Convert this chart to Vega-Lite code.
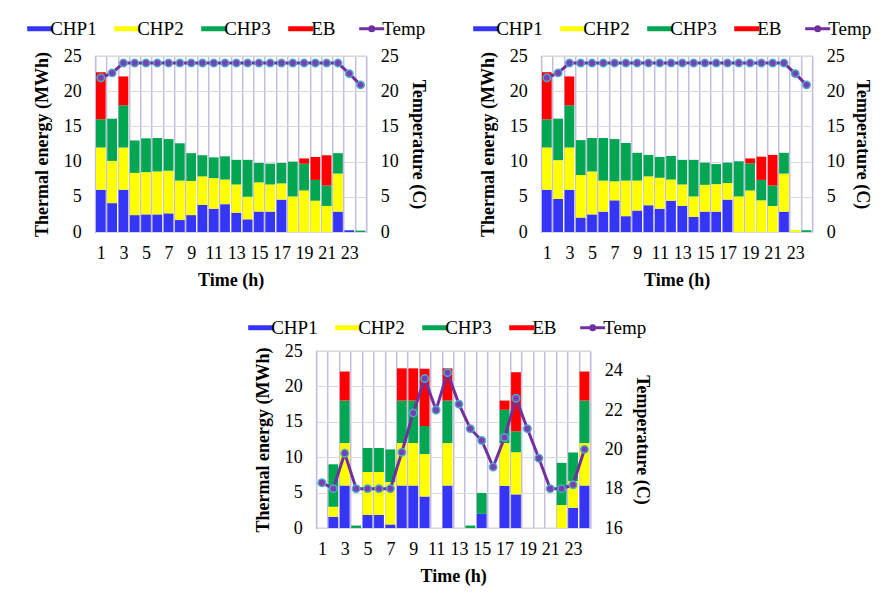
{
  "$schema": "https://vega.github.io/schema/vega-lite/v6.json",
  "padding": {"left": 29, "top": 18, "right": 0, "bottom": 0},
  "background": "white",
  "config": {
    "font": "Liberation Serif",
    "view": {"stroke": "#a6a6a6", "strokeWidth": 1.2},
    "axis": {"labelFontSize": 18, "titleFontSize": 18, "labelColor": "#000", "titleColor": "#000", "titleFontWeight": "bold", "labelFont": "Liberation Serif", "titleFont": "Liberation Serif"},
    "legend": {"labelFontSize": 19, "labelFont": "Liberation Serif", "labelColor": "#000"}
  },
  "datasets": {
    "p1": [
      {"h": 1, "CHP1": 6, "CHP2": 6, "CHP3": 4, "EB": 6.7, "Temp": 21.9},
      {"h": 2, "CHP1": 4.1, "CHP2": 6, "CHP3": 6, "EB": 0, "Temp": 22.6},
      {"h": 3, "CHP1": 6, "CHP2": 6, "CHP3": 6, "EB": 4.1, "Temp": 24},
      {"h": 4, "CHP1": 2.4, "CHP2": 6, "CHP3": 4.6, "EB": 0, "Temp": 24},
      {"h": 5, "CHP1": 2.5, "CHP2": 6, "CHP3": 4.8, "EB": 0, "Temp": 24},
      {"h": 6, "CHP1": 2.5, "CHP2": 6.1, "CHP3": 4.75, "EB": 0, "Temp": 24},
      {"h": 7, "CHP1": 2.65, "CHP2": 6.05, "CHP3": 4.5, "EB": 0, "Temp": 24},
      {"h": 8, "CHP1": 1.7, "CHP2": 5.6, "CHP3": 5.3, "EB": 0, "Temp": 24},
      {"h": 9, "CHP1": 2.4, "CHP2": 4.85, "CHP3": 3.95, "EB": 0, "Temp": 24},
      {"h": 10, "CHP1": 3.85, "CHP2": 4.05, "CHP3": 3.0, "EB": 0, "Temp": 24},
      {"h": 11, "CHP1": 3.3, "CHP2": 4.35, "CHP3": 2.95, "EB": 0, "Temp": 24},
      {"h": 12, "CHP1": 3.95, "CHP2": 3.5, "CHP3": 3.3, "EB": 0, "Temp": 24},
      {"h": 13, "CHP1": 2.75, "CHP2": 4.0, "CHP3": 3.5, "EB": 0, "Temp": 24},
      {"h": 14, "CHP1": 1.8, "CHP2": 3.2, "CHP3": 5.25, "EB": 0, "Temp": 24},
      {"h": 15, "CHP1": 2.9, "CHP2": 4.15, "CHP3": 2.75, "EB": 0, "Temp": 24},
      {"h": 16, "CHP1": 2.9, "CHP2": 3.85, "CHP3": 2.95, "EB": 0, "Temp": 24},
      {"h": 17, "CHP1": 4.6, "CHP2": 2.3, "CHP3": 2.9, "EB": 0, "Temp": 24},
      {"h": 18, "CHP1": 0, "CHP2": 5.05, "CHP3": 4.95, "EB": 0, "Temp": 24},
      {"h": 19, "CHP1": 0, "CHP2": 5.9, "CHP3": 3.8, "EB": 0.75, "Temp": 24},
      {"h": 20, "CHP1": 0, "CHP2": 4.45, "CHP3": 2.95, "EB": 3.25, "Temp": 24},
      {"h": 21, "CHP1": 0, "CHP2": 3.7, "CHP3": 2.9, "EB": 4.3, "Temp": 24},
      {"h": 22, "CHP1": 2.9, "CHP2": 5.4, "CHP3": 2.9, "EB": 0, "Temp": 24},
      {"h": 23, "CHP1": 0.25, "CHP2": 0, "CHP3": 0, "EB": 0, "Temp": 22.5},
      {"h": 24, "CHP1": 0, "CHP2": 0, "CHP3": 0.2, "EB": 0, "Temp": 20.9}
    ],
    "p2": [
      {"h": 1, "CHP1": 6, "CHP2": 6, "CHP3": 4, "EB": 6.7, "Temp": 21.9},
      {"h": 2, "CHP1": 4.7, "CHP2": 5.5, "CHP3": 5.9, "EB": 0, "Temp": 22.6},
      {"h": 3, "CHP1": 6, "CHP2": 6, "CHP3": 6, "EB": 4.1, "Temp": 24},
      {"h": 4, "CHP1": 2.05, "CHP2": 6.05, "CHP3": 4.95, "EB": 0, "Temp": 24},
      {"h": 5, "CHP1": 2.5, "CHP2": 6.1, "CHP3": 4.75, "EB": 0, "Temp": 24},
      {"h": 6, "CHP1": 2.9, "CHP2": 4.4, "CHP3": 6.05, "EB": 0, "Temp": 24},
      {"h": 7, "CHP1": 4.5, "CHP2": 2.7, "CHP3": 6.0, "EB": 0, "Temp": 24},
      {"h": 8, "CHP1": 2.25, "CHP2": 5.05, "CHP3": 5.35, "EB": 0, "Temp": 24},
      {"h": 9, "CHP1": 3.05, "CHP2": 4.25, "CHP3": 3.95, "EB": 0, "Temp": 24},
      {"h": 10, "CHP1": 3.8, "CHP2": 4.1, "CHP3": 3.05, "EB": 0, "Temp": 24},
      {"h": 11, "CHP1": 3.3, "CHP2": 4.4, "CHP3": 2.95, "EB": 0, "Temp": 24},
      {"h": 12, "CHP1": 4.45, "CHP2": 3.0, "CHP3": 3.35, "EB": 0, "Temp": 24},
      {"h": 13, "CHP1": 3.7, "CHP2": 3.05, "CHP3": 3.5, "EB": 0, "Temp": 24},
      {"h": 14, "CHP1": 2.15, "CHP2": 2.9, "CHP3": 5.2, "EB": 0, "Temp": 24},
      {"h": 15, "CHP1": 2.9, "CHP2": 3.8, "CHP3": 3.15, "EB": 0, "Temp": 24},
      {"h": 16, "CHP1": 2.9, "CHP2": 3.9, "CHP3": 2.85, "EB": 0, "Temp": 24},
      {"h": 17, "CHP1": 4.6, "CHP2": 2.35, "CHP3": 2.9, "EB": 0, "Temp": 24},
      {"h": 18, "CHP1": 0, "CHP2": 5.05, "CHP3": 5.0, "EB": 0, "Temp": 24},
      {"h": 19, "CHP1": 0, "CHP2": 5.9, "CHP3": 3.85, "EB": 0.7, "Temp": 24},
      {"h": 20, "CHP1": 0, "CHP2": 4.5, "CHP3": 2.9, "EB": 3.3, "Temp": 24},
      {"h": 21, "CHP1": 0, "CHP2": 3.7, "CHP3": 2.9, "EB": 4.35, "Temp": 24},
      {"h": 22, "CHP1": 2.9, "CHP2": 5.4, "CHP3": 2.95, "EB": 0, "Temp": 24},
      {"h": 23, "CHP1": 0, "CHP2": 0.3, "CHP3": 0, "EB": 0, "Temp": 22.5},
      {"h": 24, "CHP1": 0, "CHP2": 0, "CHP3": 0.25, "EB": 0, "Temp": 20.9}
    ],
    "p3": [
      {"h": 1, "CHP1": 0, "CHP2": 0, "CHP3": 0, "EB": 0, "Temp": 18.3},
      {"h": 2, "CHP1": 1.6, "CHP2": 1.4, "CHP3": 6.0, "EB": 0, "Temp": 18.0},
      {"h": 3, "CHP1": 6, "CHP2": 6, "CHP3": 6, "EB": 4.1, "Temp": 19.8},
      {"h": 4, "CHP1": 0, "CHP2": 0, "CHP3": 0.35, "EB": 0, "Temp": 18.0},
      {"h": 5, "CHP1": 1.85, "CHP2": 6.05, "CHP3": 3.4, "EB": 0, "Temp": 18.0},
      {"h": 6, "CHP1": 1.85, "CHP2": 6.05, "CHP3": 3.4, "EB": 0, "Temp": 18.0},
      {"h": 7, "CHP1": 0.5, "CHP2": 6.0, "CHP3": 4.6, "EB": 0, "Temp": 18.0},
      {"h": 8, "CHP1": 6, "CHP2": 6, "CHP3": 6, "EB": 4.55, "Temp": 19.85},
      {"h": 9, "CHP1": 6, "CHP2": 6, "CHP3": 6, "EB": 4.55, "Temp": 21.85},
      {"h": 10, "CHP1": 4.45, "CHP2": 6.0, "CHP3": 3.95, "EB": 8.1, "Temp": 23.6},
      {"h": 11, "CHP1": 0, "CHP2": 0, "CHP3": 0, "EB": 0, "Temp": 22.0},
      {"h": 12, "CHP1": 6, "CHP2": 6, "CHP3": 6, "EB": 4.55, "Temp": 23.9},
      {"h": 13, "CHP1": 0, "CHP2": 0, "CHP3": 0, "EB": 0, "Temp": 22.3},
      {"h": 14, "CHP1": 0, "CHP2": 0, "CHP3": 0.35, "EB": 0, "Temp": 21.05},
      {"h": 15, "CHP1": 2.0, "CHP2": 0, "CHP3": 2.95, "EB": 0, "Temp": 20.45},
      {"h": 16, "CHP1": 0, "CHP2": 0, "CHP3": 0, "EB": 0, "Temp": 19.1},
      {"h": 17, "CHP1": 5.95, "CHP2": 6.05, "CHP3": 4.7, "EB": 1.3, "Temp": 20.6},
      {"h": 18, "CHP1": 4.75, "CHP2": 5.95, "CHP3": 2.95, "EB": 8.35, "Temp": 22.6},
      {"h": 19, "CHP1": 0, "CHP2": 0, "CHP3": 0, "EB": 0, "Temp": 21.05},
      {"h": 20, "CHP1": 0, "CHP2": 0, "CHP3": 0, "EB": 0, "Temp": 19.55},
      {"h": 21, "CHP1": 0, "CHP2": 0, "CHP3": 0, "EB": 0, "Temp": 18.0},
      {"h": 22, "CHP1": 0, "CHP2": 3.25, "CHP3": 5.95, "EB": 0, "Temp": 18.0},
      {"h": 23, "CHP1": 2.85, "CHP2": 3.8, "CHP3": 4.0, "EB": 0, "Temp": 18.2},
      {"h": 24, "CHP1": 6, "CHP2": 6, "CHP3": 6, "EB": 4.1, "Temp": 20.0}
    ]
  },
  "vconcat": [
    {
      "hconcat": [
        {
          "width": 271, "height": 176,
          "data": {"name": "p1"},
          "encoding": {
            "x": {"field": "h", "type": "ordinal", "scale": {"domain": [1,2,3,4,5,6,7,8,9,10,11,12,13,14,15,16,17,18,19,20,21,22,23,24], "paddingInner": 0, "paddingOuter": 0},
              "axis": {"title": "Time (h)", "labelAngle": 0, "labelExpr": "datum.value % 2 == 1 ? datum.label : ''", "labelOverlap": false, "tickBand": "extent", "grid": true, "gridColor": "#c6bce0", "gridWidth": 1.5, "ticks": false, "domain": false, "labelPadding": 12, "titlePadding": 9}}
          },
          "layer": [
            {
              "transform": [{"fold": ["CHP1", "CHP2", "CHP3", "EB"], "as": ["src", "val"]}, {"filter": "datum.val > 0"}],
              "mark": {"type": "bar", "width": {"band": 0.86}},
              "encoding": {
                "y": {"field": "val", "type": "quantitative", "stack": "zero", "scale": {"domain": [0, 25]},
                  "axis": {"title": "Thermal energy (MWh)", "values": [0, 5, 10, 15, 20, 25], "grid": true, "gridColor": "#d9d9d9", "ticks": false, "domain": false, "labelPadding": 14, "titlePadding": 12}},
                "color": {"field": "src", "type": "nominal",
                  "scale": {"domain": ["CHP1", "CHP2", "CHP3", "EB", "Temp"], "range": ["#3535f5", "#ffff00", "#00a651", "#ff0000", "#7030a0"]},
                  "legend": {"orient": "none", "legendX": -65, "legendY": -37, "direction": "horizontal", "title": null, "symbolSize": 625, "labelOffset": 1, "columnPadding": 17,
                    "encode": {"symbols": {"update": {
                      "shape": {"signal": "datum.value == 'Temp' ? 'M-1,0H1M-0.16,0A0.16,0.16 0 1,0 0.16,0A0.16,0.16 0 1,0 -0.16,0' : 'M-1,-0.2H1V0.2H-1Z'"},
                      "fill": {"signal": "datum.value == 'CHP1' ? '#3535f5' : datum.value == 'CHP2' ? '#ffff00' : datum.value == 'CHP3' ? '#00a651' : datum.value == 'EB' ? '#ff0000' : '#4bacc6'"},
                      "stroke": {"signal": "datum.value == 'Temp' ? '#7030a0' : 'transparent'"},
                      "strokeWidth": {"signal": "datum.value == 'Temp' ? 3 : 0"},
                      "opacity": {"value": 1}, "fillOpacity": {"value": 1}}}}}},
                "order": {"field": "src", "sort": "ascending"}
              }
            },
            {
              "mark": {"type": "line", "color": "#7030a0", "strokeWidth": 3, "point": {"filled": true, "size": 55, "fill": "#7b3fb5", "stroke": "#4bacc6", "strokeWidth": 1.5}},
              "encoding": {
                "y": {"field": "Temp", "type": "quantitative", "scale": {"domain": [0, 25]},
                  "axis": {"orient": "right", "title": "Temperature (C)", "values": [0, 5, 10, 15, 20, 25], "grid": false, "ticks": false, "domain": false, "labelPadding": 14, "titlePadding": 10}}
              }
            }
          ],
          "resolve": {"scale": {"y": "independent"}}
        },
        {
          "width": 271, "height": 176,
          "data": {"name": "p2"},
          "encoding": {
            "x": {"field": "h", "type": "ordinal", "scale": {"domain": [1,2,3,4,5,6,7,8,9,10,11,12,13,14,15,16,17,18,19,20,21,22,23,24], "paddingInner": 0, "paddingOuter": 0},
              "axis": {"title": "Time (h)", "labelAngle": 0, "labelExpr": "datum.value % 2 == 1 ? datum.label : ''", "labelOverlap": false, "tickBand": "extent", "grid": true, "gridColor": "#c6bce0", "gridWidth": 1.5, "ticks": false, "domain": false, "labelPadding": 12, "titlePadding": 9}}
          },
          "layer": [
            {
              "transform": [{"fold": ["CHP1", "CHP2", "CHP3", "EB"], "as": ["src", "val"]}, {"filter": "datum.val > 0"}],
              "mark": {"type": "bar", "width": {"band": 0.86}},
              "encoding": {
                "y": {"field": "val", "type": "quantitative", "stack": "zero", "scale": {"domain": [0, 25]},
                  "axis": {"title": "Thermal energy (MWh)", "values": [0, 5, 10, 15, 20, 25], "grid": true, "gridColor": "#d9d9d9", "ticks": false, "domain": false, "labelPadding": 14, "titlePadding": 12}},
                "color": {"field": "src", "type": "nominal",
                  "scale": {"domain": ["CHP1", "CHP2", "CHP3", "EB", "Temp"], "range": ["#3535f5", "#ffff00", "#00a651", "#ff0000", "#7030a0"]},
                  "legend": {"orient": "none", "legendX": -65, "legendY": -37, "direction": "horizontal", "title": null, "symbolSize": 625, "labelOffset": 1, "columnPadding": 17,
                    "encode": {"symbols": {"update": {
                      "shape": {"signal": "datum.value == 'Temp' ? 'M-1,0H1M-0.16,0A0.16,0.16 0 1,0 0.16,0A0.16,0.16 0 1,0 -0.16,0' : 'M-1,-0.2H1V0.2H-1Z'"},
                      "fill": {"signal": "datum.value == 'CHP1' ? '#3535f5' : datum.value == 'CHP2' ? '#ffff00' : datum.value == 'CHP3' ? '#00a651' : datum.value == 'EB' ? '#ff0000' : '#4bacc6'"},
                      "stroke": {"signal": "datum.value == 'Temp' ? '#7030a0' : 'transparent'"},
                      "strokeWidth": {"signal": "datum.value == 'Temp' ? 3 : 0"},
                      "opacity": {"value": 1}, "fillOpacity": {"value": 1}}}}}},
                "order": {"field": "src", "sort": "ascending"}
              }
            },
            {
              "mark": {"type": "line", "color": "#7030a0", "strokeWidth": 3, "point": {"filled": true, "size": 55, "fill": "#7b3fb5", "stroke": "#4bacc6", "strokeWidth": 1.5}},
              "encoding": {
                "y": {"field": "Temp", "type": "quantitative", "scale": {"domain": [0, 25]},
                  "axis": {"orient": "right", "title": "Temperature (C)", "values": [0, 5, 10, 15, 20, 25], "grid": false, "ticks": false, "domain": false, "labelPadding": 14, "titlePadding": 8}}
              }
            }
          ],
          "resolve": {"scale": {"y": "independent"}}
        }
      ],
      "spacing": 48,
      "resolve": {"scale": {"color": "independent"}, "legend": {"color": "independent"}}
    },
    {
      "width": 274, "height": 177,
      "data": {"name": "p3"},
      "encoding": {
        "x": {"field": "h", "type": "ordinal", "scale": {"domain": [1,2,3,4,5,6,7,8,9,10,11,12,13,14,15,16,17,18,19,20,21,22,23,24], "paddingInner": 0, "paddingOuter": 0},
          "axis": {"title": "Time (h)", "labelAngle": 0, "labelExpr": "datum.value % 2 == 1 ? datum.label : ''", "labelOverlap": false, "tickBand": "extent", "grid": true, "gridColor": "#c6bce0", "gridWidth": 1.5, "ticks": false, "domain": false, "labelPadding": 12, "titlePadding": 9}}
      },
      "layer": [
        {
          "transform": [{"fold": ["CHP1", "CHP2", "CHP3", "EB"], "as": ["src", "val"]}, {"filter": "datum.val > 0"}],
          "mark": {"type": "bar", "width": {"band": 0.86}},
          "encoding": {
            "y": {"field": "val", "type": "quantitative", "stack": "zero", "scale": {"domain": [0, 25]},
              "axis": {"title": "Thermal energy (MWh)", "values": [0, 5, 10, 15, 20, 25], "grid": true, "gridColor": "#d9d9d9", "ticks": false, "domain": false, "labelPadding": 14, "titlePadding": 12}},
            "color": {"field": "src", "type": "nominal",
              "scale": {"domain": ["CHP1", "CHP2", "CHP3", "EB", "Temp"], "range": ["#3535f5", "#ffff00", "#00a651", "#ff0000", "#7030a0"]},
              "legend": {"orient": "none", "legendX": -65, "legendY": -33, "direction": "horizontal", "title": null, "symbolSize": 625, "labelOffset": 1, "columnPadding": 17,
                "encode": {"symbols": {"update": {
                  "shape": {"signal": "datum.value == 'Temp' ? 'M-1,0H1M-0.16,0A0.16,0.16 0 1,0 0.16,0A0.16,0.16 0 1,0 -0.16,0' : 'M-1,-0.2H1V0.2H-1Z'"},
                  "fill": {"signal": "datum.value == 'CHP1' ? '#3535f5' : datum.value == 'CHP2' ? '#ffff00' : datum.value == 'CHP3' ? '#00a651' : datum.value == 'EB' ? '#ff0000' : '#4bacc6'"},
                  "stroke": {"signal": "datum.value == 'Temp' ? '#7030a0' : 'transparent'"},
                  "strokeWidth": {"signal": "datum.value == 'Temp' ? 3 : 0"},
                  "opacity": {"value": 1}, "fillOpacity": {"value": 1}}}}}},
            "order": {"field": "src", "sort": "ascending"}
          }
        },
        {
          "mark": {"type": "line", "color": "#7030a0", "strokeWidth": 3, "point": {"filled": true, "size": 55, "fill": "#7b3fb5", "stroke": "#4bacc6", "strokeWidth": 1.5}},
          "encoding": {
            "y": {"field": "Temp", "type": "quantitative", "scale": {"domain": [16, 25]},
              "axis": {"orient": "right", "title": "Temperature (C)", "values": [16, 18, 20, 22, 24], "grid": false, "ticks": false, "domain": false, "labelPadding": 14, "titlePadding": 10}}
          }
        }
      ],
      "resolve": {"scale": {"y": "independent"}}
    }
  ],
  "spacing": 27,
  "center": true,
  "resolve": {"scale": {"color": "independent"}, "legend": {"color": "independent"}}
}
